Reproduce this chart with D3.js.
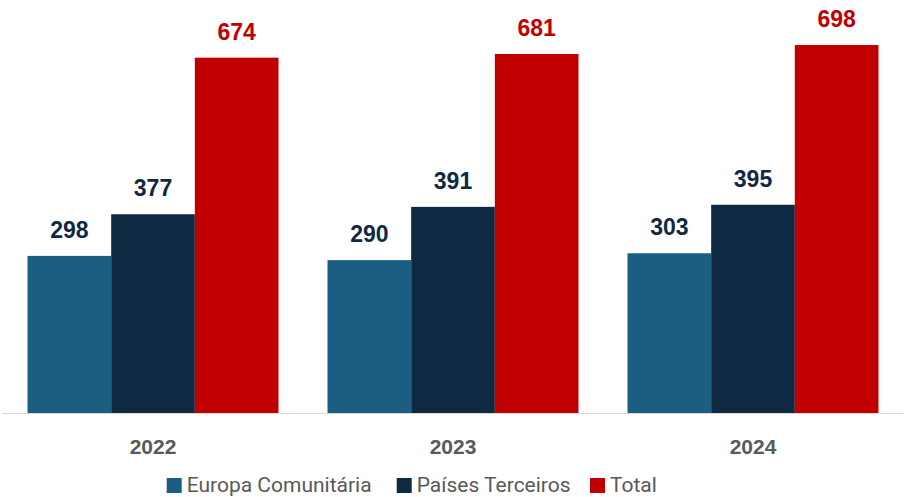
<!DOCTYPE html>
<html><head><meta charset="utf-8">
<script src="https://cdn.jsdelivr.net/npm/d3@7"></script>
<style>body{margin:0;background:#fff}svg{display:block}</style>
</head><body>
<script>
const years = ["2022","2023","2024"];
const seriesNames = ["Europa Comunitária","Países Terceiros","Total"];
const europa = [298,290,303];
const terceiros = [377,391,395];
const total = [674,681,698];
const colors = ["#1a5e82","#0f2942","#c00000"];
const labelColors = ["#0f2942","#0f2942","#c00000"];

const W=905,H=497;
const svg=d3.select("body").append("svg").attr("width",W).attr("height",H);
const seriesVals=[europa,terceiros,total];

const x0=d3.scaleBand().domain(years).range([3,903]).paddingInner(0.1633).paddingOuter(0.0817);
const x1=d3.scaleBand().domain(seriesNames).range([0,x0.bandwidth()]);
const y=d3.scaleLinear().domain([0,783.4]).range([413,0]);

// axis line
svg.append("line").attr("x1",2).attr("x2",903).attr("y1",413.5).attr("y2",413.5).attr("stroke","#d9d9d9").attr("stroke-width",1.2);

const g=svg.append("g");
years.forEach((yr,i)=>{
  seriesNames.forEach((s,j)=>{
    const v=seriesVals[j][i];
    g.append("rect").attr("x",x0(yr)+x1(s)).attr("y",y(v)).attr("width",x1.bandwidth()).attr("height",y(0)-y(v)).attr("fill",colors[j]);
    g.append("text").attr("x",x0(yr)+x1(s)+x1.bandwidth()/2).attr("y",y(v)-18)
      .attr("text-anchor","middle").attr("font-family","Liberation Sans, Arial, sans-serif").attr("font-weight","bold")
      .attr("font-size",23).attr("fill",labelColors[j]).text(v);
  });
  svg.append("text").attr("x",x0(yr)+x0.bandwidth()/2).attr("y",454).attr("text-anchor","middle")
    .attr("font-family","Liberation Sans, Arial, sans-serif").attr("font-weight","bold").attr("font-size",21).attr("fill","#595959").text(yr);
});

// legend
const legX=[166.7,396.7,590];
const lg=svg.append("g");
seriesNames.forEach((s,j)=>{
  lg.append("rect").attr("x",legX[j]).attr("y",478).attr("width",15).attr("height",15).attr("fill",colors[j]);
  lg.append("text").attr("x",legX[j]+20).attr("y",491.5).attr("font-family","Roboto, sans-serif").attr("font-size",21).attr("fill","#595959").text(s);
});
</script>
</body></html>
